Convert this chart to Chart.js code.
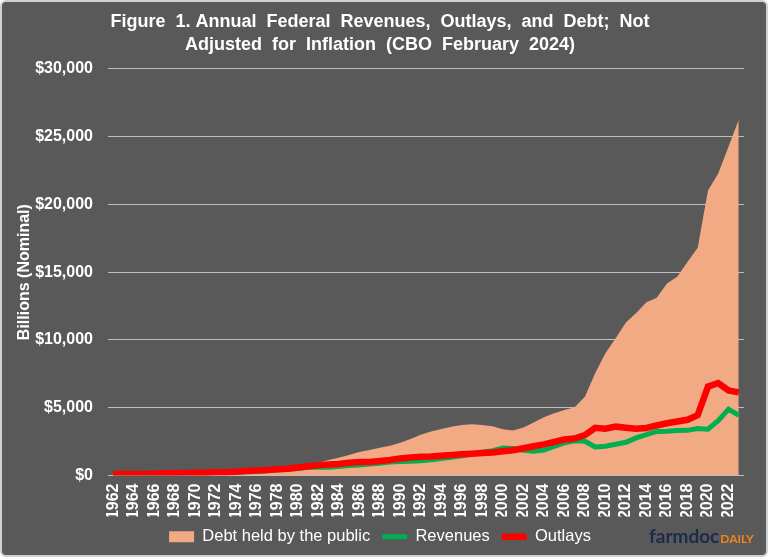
<!DOCTYPE html>
<html>
<head>
<meta charset="utf-8">
<script src="https://cdn.jsdelivr.net/npm/chart.js@4.4.1/dist/chart.umd.min.js"></script>
<style>
  html, body { margin: 0; padding: 0; background: #ffffff; }
  #wrap {
    position: absolute; left: 0; top: 0;
    width: 764px; height: 553px;
    background: #595959;
    border: 2px solid #d0d0d0;
    border-radius: 6px;
  }
  canvas { display: block; }
</style>
</head>
<body>
<div id="wrap"><canvas id="budgetChart" width="764" height="553"></canvas></div>
<script>
// CBO February 2024, billions of dollars (nominal)
const years = [];
for (let y = 1962; y <= 2023; y++) years.push(String(y));

const debtHeld = [248, 254, 257, 261, 264, 267, 290, 278, 283, 303,
  322, 341, 344, 395, 477, 549, 607, 640, 712, 789,
  925, 1137, 1307, 1507, 1741, 1890, 2052, 2191, 2412, 2689,
  3000, 3248, 3433, 3604, 3734, 3772, 3721, 3632, 3410, 3320,
  3540, 3913, 4296, 4592, 4829, 5035, 5803, 7545, 9019, 10128,
  11281, 11983, 12780, 13117, 14168, 14666, 15750, 16801, 21017, 22284,
  24252, 26236];

const revenues = [100, 107, 113, 117, 131, 149, 153, 187, 193, 187,
  207, 231, 263, 279, 298, 356, 400, 463, 517, 599,
  618, 601, 666, 734, 769, 854, 909, 991, 1032, 1055,
  1091, 1154, 1259, 1352, 1453, 1579, 1722, 1827, 2025, 1991,
  1853, 1782, 1880, 2154, 2407, 2568, 2524, 2105, 2163, 2303,
  2450, 2775, 3022, 3250, 3268, 3316, 3330, 3463, 3421, 4047,
  4897, 4439];

const outlays = [107, 111, 119, 118, 135, 158, 178, 184, 196, 210,
  231, 246, 269, 332, 372, 409, 459, 504, 591, 678,
  746, 808, 852, 946, 990, 1004, 1065, 1144, 1253, 1324,
  1382, 1409, 1462, 1516, 1561, 1601, 1652, 1702, 1789, 1863,
  2011, 2160, 2293, 2472, 2655, 2729, 2983, 3518, 3457, 3603,
  3527, 3455, 3506, 3692, 3853, 3982, 4109, 4447, 6554, 6822,
  6273, 6135];

const titleLines = ['Figure  1. Annual  Federal  Revenues,  Outlays,  and  Debt;  Not',
  'Adjusted  for  Inflation  (CBO  February  2024)'];

const labelFont = '"Liberation Sans", Arial, sans-serif';

// little farmdoc daily mark in the corner
const logoPlugin = {
  id: 'logo',
  afterDraw(chart) {
    const ctx = chart.ctx;
    ctx.save();
    ctx.textBaseline = 'alphabetic';
    ctx.font = 'bold 19px Lato, "Liberation Sans", sans-serif';
    ctx.fillStyle = '#1d2a4a';
    ctx.fillText('farmdoc', 647, 541);
    const w = ctx.measureText('farmdoc').width;
    ctx.font = 'bold 12px Lato, "Liberation Sans", sans-serif';
    ctx.fillStyle = '#f5821f';
    ctx.fillText('DAILY', 647 + w + 1, 541);
    ctx.restore();
  }
};

window.onload = function() {
  const ctx = document.getElementById('budgetChart').getContext('2d');
  new Chart(ctx, {
    type: 'line',
    data: {
      labels: years,
      datasets: [{
        label: 'Debt held by the public',
        data: debtHeld,
        fill: 'origin',
        backgroundColor: '#f2aa84',
        borderColor: '#f2aa84',
        borderWidth: 0,
        pointRadius: 0,
        pointStyle: 'rect',
        order: 3
      }, {
        label: 'Revenues',
        data: revenues,
        fill: false,
        borderColor: '#00b050',
        backgroundColor: '#00b050',
        borderWidth: 5,
        pointRadius: 0,
        pointStyle: 'line',
        order: 2
      }, {
        label: 'Outlays',
        data: outlays,
        fill: false,
        borderColor: '#ff0000',
        backgroundColor: '#ff0000',
        borderWidth: 6.5,
        pointRadius: 0,
        pointStyle: 'line',
        order: 1
      }]
    },
    options: {
      responsive: false,
      animation: false,
      layout: { padding: { left: 0, right: 8, top: 4, bottom: 0 } },
      plugins: {
        title: {
          display: true,
          text: titleLines,
          color: '#ffffff',
          font: { family: labelFont, size: 18, weight: 'bold', lineHeight: 1.3 },
          padding: { top: 4, bottom: 12 }
        },
        legend: {
          position: 'bottom',
          labels: {
            color: '#ffffff',
            font: { family: labelFont, size: 16.5 },
            usePointStyle: true,
            pointStyleWidth: 25,
            boxHeight: 11,
            padding: 12,
            sort: (a, b) => a.datasetIndex - b.datasetIndex
          }
        },
        tooltip: { enabled: false }
      },
      scales: {
        x: {
          offset: true,
          afterFit: function(scale) { scale.height = 41; },
          grid: { display: false, drawTicks: false },
          border: { display: true, color: '#bfbfbf', width: 1 },
          ticks: {
            color: '#ffffff',
            font: { family: labelFont, size: 16, weight: 'bold' },
            maxRotation: 90,
            minRotation: 90,
            autoSkip: false,
            padding: 8,
            callback: function(v, i) { return i % 2 === 0 ? years[i] : ''; }
          }
        },
        y: {
          min: 0,
          max: 30000,
          afterFit: function(scale) { scale.width = 106; },
          grid: { color: '#bfbfbf', lineWidth: 1, drawTicks: false },
          border: { display: false },
          ticks: {
            stepSize: 5000,
            color: '#ffffff',
            font: { family: labelFont, size: 16, weight: 'bold' },
            padding: 15,
            callback: function(v) { return '$' + v.toLocaleString('en-US'); }
          },
          title: {
            display: true,
            text: 'Billions (Nominal)',
            color: '#ffffff',
            font: { family: labelFont, size: 16, weight: 'bold' },
            padding: { top: 13, bottom: 0 }
          }
        }
      }
    },
    plugins: [logoPlugin]
  });
};
</script>
</body>
</html>
